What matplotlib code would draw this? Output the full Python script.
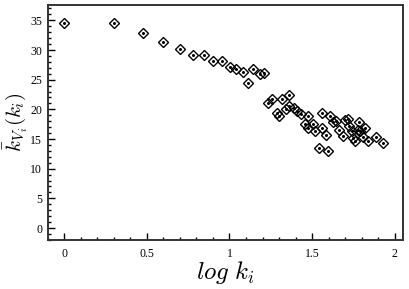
import matplotlib
matplotlib.use("Agg")
import matplotlib.pyplot as plt
from matplotlib.ticker import MultipleLocator

# log k_i and mean neighbour degree
log_k = [0.0, 0.30, 0.476, 0.597, 0.70, 0.777, 0.845, 0.901, 0.952, 1.002,
         1.039, 1.079, 1.113, 1.143, 1.184, 1.208,
         1.234, 1.255, 1.321, 1.361, 1.285, 1.301, 1.345, 1.361, 1.390,
         1.406, 1.436, 1.476, 1.456, 1.476, 1.506, 1.517, 1.563, 1.563,
         1.587, 1.607, 1.627, 1.648, 1.664, 1.688, 1.698, 1.718, 1.724,
         1.739, 1.748, 1.785, 1.789, 1.809, 1.819, 1.839, 1.886, 1.930,
         1.543, 1.597, 1.759, 1.779]
k_nn = [34.5, 34.6, 32.8, 31.4, 30.1, 29.1, 29.1, 28.2, 28.1, 27.2,
        26.8, 26.3, 24.4, 26.8, 25.9, 26.1,
        21.1, 21.7, 21.7, 22.4, 19.3, 18.9, 20.0, 20.6, 20.3,
        19.7, 19.2, 18.8, 17.5, 16.9, 17.6, 16.4, 19.4, 16.9,
        15.6, 18.8, 17.8, 18.0, 16.6, 15.5, 18.2, 18.3, 17.2,
        16.4, 15.2, 17.9, 16.4, 15.4, 16.9, 14.7, 15.4, 14.4,
        13.4, 13.0, 14.7, 16.6]

x_ticks = [0, 0.5, 1, 1.5, 2]
x_tick_labels = ["0", "0.5", "1", "1.5", "2"]
y_ticks = [0, 5, 10, 15, 20, 25, 30, 35]

plt.rcParams["font.family"] = ["Liberation Serif", "DejaVu Serif"]
plt.rcParams["mathtext.fontset"] = "cm"

fig = plt.figure(figsize=(4.09, 2.89), dpi=100)
ax = fig.add_axes([0.117, 0.170, 0.868, 0.813])

ax.plot(log_k, k_nn, linestyle="none", marker="D", markersize=5.4,
        markerfacecolor="none", markeredgecolor="black", markeredgewidth=1.0)
ax.plot(log_k, k_nn, linestyle="none", marker="o", markersize=1.2,
        color="black")

ax.set_xlim(-0.1, 2.05)
ax.set_ylim(-2, 37.6)
ax.set_xticks(x_ticks)
ax.set_xticklabels(x_tick_labels)
ax.set_yticks(y_ticks)
ax.xaxis.set_minor_locator(MultipleLocator(0.1))
ax.yaxis.set_minor_locator(MultipleLocator(1))
ax.tick_params(which="both", direction="in", top=False, right=False,
               labelsize=8.5, width=1.0, pad=6)
ax.tick_params(axis="y", pad=4)
ax.tick_params(which="major", length=5)
ax.tick_params(which="minor", length=2.5)

for s in ax.spines.values():
    s.set_linewidth(1.4)
    s.set_color("#333333")

ax.set_xlabel(r"$log\ k_i$", fontsize=18, labelpad=-1)
ax.set_ylabel(r"$\bar{k}_{V_i}(k_i)$", fontsize=15)
ax.yaxis.set_label_coords(-0.05, 0.5)

fig.savefig("out.png", dpi=100)
